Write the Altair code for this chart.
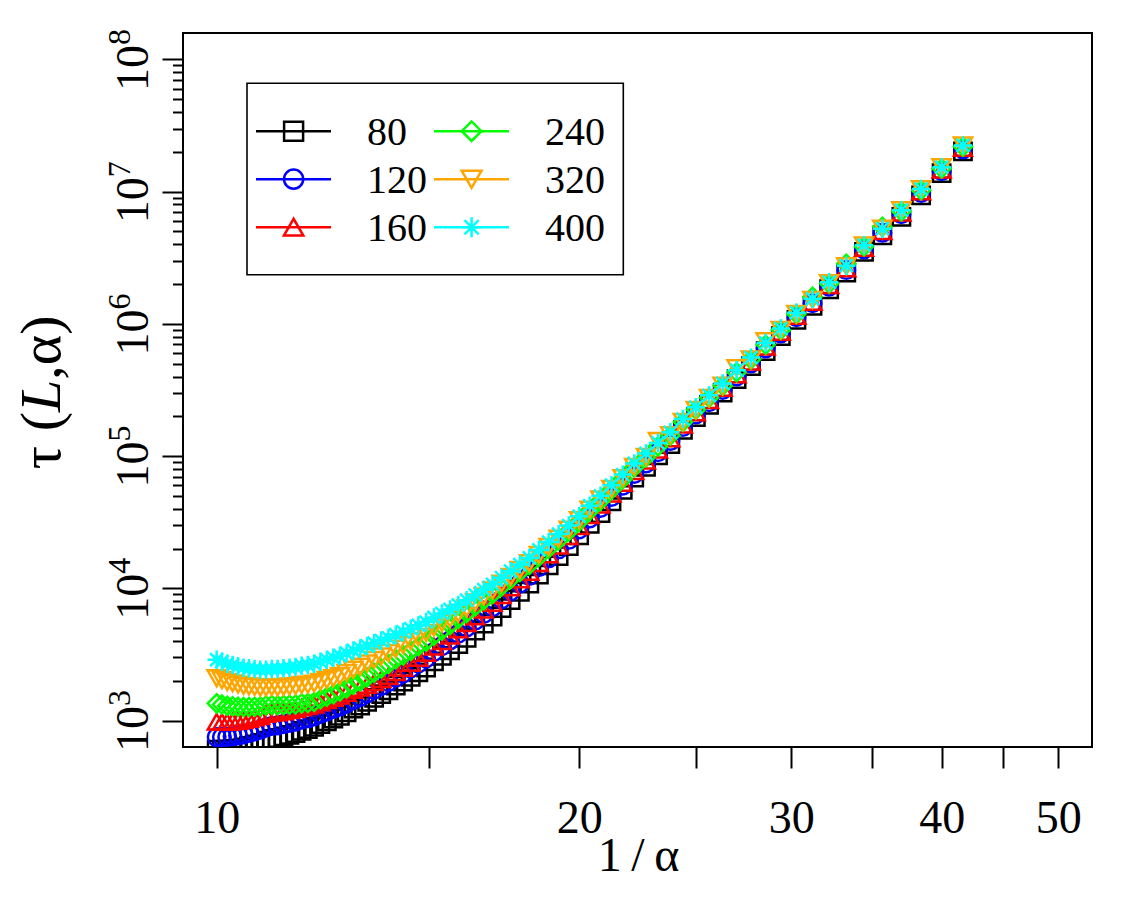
import altair as alt
import pandas as pd

# ---------------- data ----------------
alpha = [0.100, 0.099, 0.098, 0.097, 0.096, 0.095, 0.094, 0.093, 0.092, 0.091,
         0.090, 0.089, 0.088, 0.087, 0.086, 0.085, 0.084, 0.083, 0.082, 0.081,
         0.080, 0.079, 0.078, 0.077, 0.076, 0.075, 0.074, 0.073, 0.072, 0.071,
         0.070, 0.069, 0.068, 0.067, 0.066, 0.065, 0.064, 0.063, 0.062, 0.061,
         0.060, 0.059, 0.058, 0.057, 0.056, 0.055, 0.054, 0.053, 0.052, 0.051,
         0.050, 0.049, 0.048, 0.047, 0.046, 0.045, 0.044, 0.043, 0.042, 0.041,
         0.040, 0.039, 0.038, 0.037, 0.036, 0.035, 0.034, 0.033, 0.032, 0.031,
         0.030, 0.029, 0.028, 0.027, 0.026, 0.025, 0.024]

L_labels = ["80", "120", "160", "240", "320", "400"]

# log10(tau) for each system size L
log_tau_80 = [2.78, 2.78, 2.78, 2.785, 2.79, 2.796, 2.808, 2.819, 2.831, 2.848,
              2.861, 2.868, 2.88, 2.892, 2.905, 2.922, 2.935, 2.952, 2.973, 2.994,
              3.015, 3.036, 3.063, 3.09, 3.113, 3.142, 3.171, 3.20, 3.229, 3.264,
              3.294, 3.33, 3.365, 3.401, 3.448, 3.489, 3.531, 3.579, 3.626, 3.68,
              3.733, 3.787, 3.85, 3.912, 3.974, 4.035, 4.104, 4.174, 4.244, 4.319,
              4.40, 4.487, 4.57, 4.657, 4.745, 4.838, 4.918, 5.005, 5.091, 5.198,
              5.295, 5.388, 5.48, 5.583, 5.681, 5.794, 5.908, 6.03, 6.136, 6.262,
              6.388, 6.544, 6.67, 6.81, 6.972, 7.14, 7.305]
log_tau_120 = [2.875, 2.875, 2.876, 2.881, 2.888, 2.894, 2.906, 2.918, 2.93, 2.948,
               2.959, 2.963, 2.973, 2.982, 2.992, 3.007, 3.017, 3.031, 3.05, 3.069,
               3.087, 3.106, 3.13, 3.155, 3.177, 3.205, 3.233, 3.261, 3.29, 3.325,
               3.357, 3.395, 3.432, 3.47, 3.519, 3.563, 3.607, 3.657, 3.705, 3.756,
               3.807, 3.858, 3.917, 3.976, 4.036, 4.094, 4.16, 4.227, 4.295, 4.367,
               4.445, 4.529, 4.608, 4.691, 4.776, 4.865, 4.945, 5.029, 5.114, 5.22,
               5.315, 5.408, 5.50, 5.603, 5.701, 5.814, 5.928, 6.05, 6.156, 6.281,
               6.407, 6.563, 6.689, 6.83, 6.99, 7.155, 7.32]
log_tau_160 = [2.99, 2.989, 2.988, 2.992, 2.996, 3.001, 3.011, 3.022, 3.032, 3.049,
               3.058, 3.061, 3.069, 3.077, 3.086, 3.099, 3.108, 3.12, 3.137, 3.153,
               3.17, 3.187, 3.208, 3.23, 3.247, 3.268, 3.29, 3.312, 3.334, 3.365,
               3.397, 3.435, 3.472, 3.51, 3.558, 3.599, 3.641, 3.689, 3.735, 3.786,
               3.837, 3.888, 3.947, 4.006, 4.066, 4.123, 4.189, 4.255, 4.322, 4.393,
               4.47, 4.553, 4.631, 4.714, 4.797, 4.886, 4.964, 5.048, 5.132, 5.236,
               5.33, 5.422, 5.514, 5.616, 5.713, 5.826, 5.938, 6.06, 6.166, 6.292,
               6.418, 6.574, 6.70, 6.84, 7.0, 7.165, 7.33]
log_tau_240 = [3.13, 3.121, 3.112, 3.109, 3.105, 3.102, 3.103, 3.105, 3.107, 3.114,
               3.118, 3.115, 3.118, 3.12, 3.122, 3.13, 3.132, 3.141, 3.161, 3.18,
               3.20, 3.22, 3.245, 3.27, 3.296, 3.328, 3.361, 3.394, 3.427, 3.464,
               3.493, 3.527, 3.562, 3.597, 3.642, 3.682, 3.723, 3.769, 3.814, 3.862,
               3.91, 3.958, 4.014, 4.068, 4.123, 4.176, 4.239, 4.302, 4.364, 4.432,
               4.505, 4.587, 4.663, 4.745, 4.827, 4.914, 4.991, 5.073, 5.155, 5.258,
               5.35, 5.441, 5.533, 5.634, 5.731, 5.842, 5.954, 6.075, 6.205, 6.305,
               6.455, 6.585, 6.735, 6.85, 7.01, 7.175, 7.34]
log_tau_320 = [3.32, 3.305, 3.291, 3.282, 3.272, 3.263, 3.258, 3.254, 3.25, 3.25,
               3.253, 3.251, 3.255, 3.258, 3.261, 3.269, 3.271, 3.28, 3.293, 3.307,
               3.321, 3.337, 3.361, 3.385, 3.407, 3.433, 3.459, 3.485, 3.511, 3.543,
               3.57, 3.60, 3.631, 3.662, 3.704, 3.738, 3.771, 3.81, 3.849, 3.894,
               3.939, 3.984, 4.036, 4.087, 4.139, 4.191, 4.253, 4.314, 4.376, 4.443,
               4.515, 4.596, 4.672, 4.753, 4.833, 4.919, 4.995, 5.115, 5.158, 5.259,
               5.35, 5.441, 5.533, 5.665, 5.731, 5.87, 5.954, 6.075, 6.182, 6.309,
               6.436, 6.593, 6.72, 6.86, 7.02, 7.185, 7.35]
log_tau_400 = [3.46, 3.445, 3.43, 3.42, 3.41, 3.40, 3.395, 3.39, 3.385, 3.385,
               3.39, 3.39, 3.395, 3.40, 3.405, 3.415, 3.42, 3.43, 3.445, 3.46,
               3.475, 3.49, 3.51, 3.53, 3.545, 3.565, 3.585, 3.605, 3.625, 3.65,
               3.67, 3.695, 3.72, 3.745, 3.78, 3.81, 3.84, 3.875, 3.91, 3.95,
               3.99, 4.03, 4.08, 4.13, 4.18, 4.23, 4.29, 4.35, 4.41, 4.475,
               4.545, 4.625, 4.70, 4.78, 4.86, 4.945, 5.02, 5.10, 5.18, 5.28,
               5.37, 5.46, 5.55, 5.65, 5.745, 5.855, 5.965, 6.085, 6.19, 6.315,
               6.44, 6.595, 6.72, 6.86, 7.02, 7.185, 7.35]

series = [log_tau_80, log_tau_120, log_tau_160, log_tau_240, log_tau_320, log_tau_400]

x_ticks = [10, 15, 20, 25, 30, 35, 40, 45, 50]
y_major = [1e3, 1e4, 1e5, 1e6, 1e7, 1e8]

# ---------------- styles ----------------
colors = ["#000000", "#0000FF", "#FF0000", "#00FF00", "#FFA500", "#00FFFF"]
ASTERISK = "M0,-1L0,1M-1,0L1,0M-0.707,-0.707L0.707,0.707M-0.707,0.707L0.707,-0.707"
shapes = ["square", "circle", "triangle-up", "diamond", "triangle-down", ASTERISK]
legend_sizes = [361, 400, 625, 729, 625, 729]
plot_sizes = [300, 340, 540, 620, 540, 620]
FONT = "Liberation Serif"

rows = []
for lab, vals in zip(L_labels, series):
    for a, v in zip(alpha, vals):
        rows.append({"L": lab, "inv_alpha": 1.0 / a, "tau": 10 ** v})
df = pd.DataFrame(rows)

W, H = 909, 714
xscale = alt.Scale(type="log", domain=[10 ** 0.972041, 10 ** 1.726929], nice=False)
yscale = alt.Scale(type="log", domain=[10 ** 2.8, 10 ** 8.2], nice=False)

color_enc = alt.Color("L:N", scale=alt.Scale(domain=L_labels, range=colors), legend=None)
shape_enc = alt.Shape("L:N", scale=alt.Scale(domain=L_labels, range=shapes), legend=None)


def size_enc(rng):
    return alt.Size("L:N", scale=alt.Scale(domain=L_labels, range=rng), legend=None)


points = alt.Chart(df).mark_point(filled=False, strokeWidth=2.5, opacity=1, clip=True).encode(
    x=alt.X("inv_alpha:Q", scale=xscale,
            axis=alt.Axis(orient="bottom", values=x_ticks, format="d",
                          labelExpr="datum.value % 10 == 0 ? datum.label : ''",
                          tickSize=21, tickWidth=2, tickColor="black", domain=False, grid=False,
                          labelFont=FONT, labelFontSize=46, labelColor="black",
                          labelBaseline="alphabetic", labelPadding=64, labelFlush=False,
                          labelOverlap=False,
                          title="1\u2009/\u2009α", titleFont=FONT, titleFontSize=48,
                          titleFontWeight="normal", titleColor="black",
                          titleX=455, titleY=123, titleBaseline="alphabetic", titleAlign="center")),
    y=alt.Y("tau:Q", scale=yscale,
            axis=alt.Axis(orient="left", values=y_major, labelExpr="'10'",
                          tickSize=21, tickWidth=2, tickColor="black", domain=False, grid=False,
                          labelFont=FONT, labelFontSize=46, labelColor="black",
                          labelAngle=-90, labelAlign="center", labelBaseline="alphabetic",
                          labelPadding=15, labelOffset=8, labelFlush=False, labelOverlap=False,
                          title=None)),
    color=color_enc,
    shape=shape_enc,
    size=size_enc(plot_sizes),
)

# exponent of the y tick labels (superscript)
expo = alt.Chart(df).mark_point(opacity=0, clip=True).encode(
    x=alt.X("inv_alpha:Q", scale=xscale, axis=None),
    y=alt.Y("tau:Q", scale=yscale,
            axis=alt.Axis(orient="left", values=y_major,
                          labelExpr="'' + round(log(datum.value) / LN10)",
                          tickSize=21, tickOpacity=0, domain=False, grid=False,
                          labelFont=FONT, labelFontSize=32, labelColor="black",
                          labelAngle=-90, labelAlign="center", labelBaseline="alphabetic",
                          labelPadding=33, labelOffset=-23, labelFlush=False, labelOverlap=False,
                          title=None)),
)

y_minor = [k * 10 ** d for d in range(3, 8) for k in range(2, 10)]
minor = alt.Chart(df).mark_point(opacity=0, clip=True).encode(
    x=alt.X("inv_alpha:Q", scale=xscale, axis=None),
    y=alt.Y("tau:Q", scale=yscale,
            axis=alt.Axis(orient="left", values=y_minor, labels=False, tickSize=10.5,
                          tickWidth=2, tickColor="black", domain=False, grid=False, title=None)),
)

# ---------------- y title: tau (L, alpha) with italic L ----------------
TFS = 58
ty_anchor = 379.0
title_a = alt.Chart(pd.DataFrame({"t": ["τ ("]})).mark_text(
    font=FONT, fontSize=TFS, angle=270, align="right", baseline="alphabetic", color="black"
).encode(x=alt.value(-123), y=alt.value(ty_anchor), text="t:N")
title_b = alt.Chart(pd.DataFrame({"t": ["L"]})).mark_text(
    font=FONT, fontSize=TFS, fontStyle="italic", angle=270, align="left",
    baseline="alphabetic", color="black"
).encode(x=alt.value(-123), y=alt.value(ty_anchor), text="t:N")
title_c = alt.Chart(pd.DataFrame({"t": [",α)"]})).mark_text(
    font=FONT, fontSize=TFS, angle=270, align="left", baseline="alphabetic", color="black"
).encode(x=alt.value(-123), y=alt.value(ty_anchor - 0.556 * TFS), text="t:N")

# ---------------- legend (drawn by hand, R style) ----------------
leg_rows = []
for i, lab in enumerate(L_labels):
    col, row = i // 3, i % 3
    dx = col * 178
    leg_rows.append({"L": lab,
                     "lx1": 73 + dx, "lx2": 148 + dx,
                     "mx": 110.6 + dx, "tx": 184 + dx,
                     "ly": 98.2 + row * 48})
leg = pd.DataFrame(leg_rows)

box = alt.Chart(pd.DataFrame({"a": [0]})).mark_rect(
    fill="white", stroke="black", strokeWidth=1.6).encode(
    x=alt.value(64), x2=alt.value(440.3), y=alt.value(50.2), y2=alt.value(241.8))

leg_lines = alt.Chart(leg).mark_rule(strokeWidth=2.5).encode(
    x=alt.X("lx1:Q", scale=None, axis=None), x2="lx2:Q",
    y=alt.Y("ly:Q", scale=None, axis=None),
    color=color_enc)

leg_marks = alt.Chart(leg).mark_point(filled=False, strokeWidth=2.5, opacity=1).encode(
    x=alt.X("mx:Q", scale=None, axis=None),
    y=alt.Y("ly:Q", scale=None, axis=None),
    color=color_enc, shape=shape_enc, size=size_enc(legend_sizes))

leg_text = alt.Chart(leg).mark_text(font=FONT, fontSize=40, align="left",
                                    baseline="alphabetic", dy=13.5, color="black").encode(
    x=alt.X("tx:Q", scale=None, axis=None),
    y=alt.Y("ly:Q", scale=None, axis=None),
    text="L:N")

chart = alt.layer(points, expo, minor, title_a, title_b, title_c,
                  box, leg_lines, leg_marks, leg_text).resolve_scale(
    x="independent", y="independent", size="independent"
).properties(
    width=W, height=H,
    autosize=alt.AutoSizeParams(type="none"),
    padding={"left": 183, "top": 33, "right": 33, "bottom": 153},
    background="white",
).configure_view(stroke="black", strokeWidth=2)

chart.save("out.html", embed_options={"renderer": "svg", "actions": False})
